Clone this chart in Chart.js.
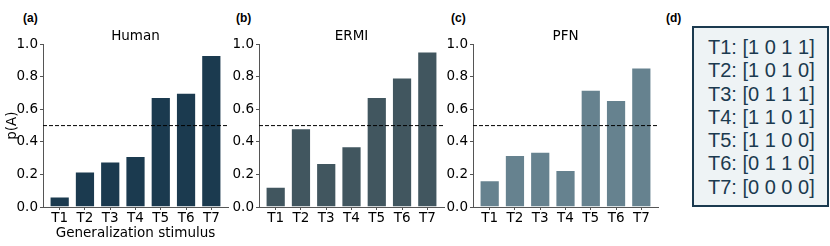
<!DOCTYPE html>
<html>
<head>
<meta charset="utf-8">
<script src="https://cdn.jsdelivr.net/npm/chart.js@4"></script>
<style>
  body { margin:0; background:#fff; width:830px; height:246px; position:relative; overflow:hidden; }
  canvas { position:absolute; top:0; }
  .lbl { position:absolute; top:11px; font:bold 12px "Liberation Sans"; color:#000; }
  #stim { position:absolute; left:692px; top:26px; width:137px; height:181px; box-sizing:border-box;
          border:2px solid #1b3a4f; background:#eef3f5; padding:8px 0 0 14px;
          font:20px "Liberation Sans"; line-height:23.3px; color:#1b3a4f; white-space:pre; }
</style>
</head>
<body>
<div class="lbl" style="left:23px">(a)</div>
<div class="lbl" style="left:236px">(b)</div>
<div class="lbl" style="left:451px">(c)</div>
<div class="lbl" style="left:666px">(d)</div>
<canvas id="human" width="236" height="246" style="left:0px"></canvas>
<canvas id="ermi" width="236" height="246" style="left:216px"></canvas>
<canvas id="pfn" width="236" height="246" style="left:430px"></canvas>
<div id="stim"></div>
<script>
const categories = ['T1', 'T2', 'T3', 'T4', 'T5', 'T6', 'T7'];
const humanValues = [0.065, 0.218, 0.280, 0.314, 0.675, 0.702, 0.933];
const ermiValues = [0.124, 0.484, 0.271, 0.373, 0.676, 0.796, 0.955];
const pfnValues = [0.165, 0.320, 0.339, 0.227, 0.720, 0.657, 0.857];
const yTicks = [0, 0.2, 0.4, 0.6, 0.8, 1.0];
const chance = 0.5;
const stimuli = ['[1 0 1 1]', '[1 0 1 0]', '[0 1 1 1]', '[1 1 0 1]', '[1 1 0 0]', '[0 1 1 0]', '[0 0 0 0]'];

const xMin = -0.66, xMax = categories.length - 1 + 0.66;
const font = { family: 'DejaVu Sans', size: 13.5 };
const tickFont = { family: 'DejaVu Sans', size: 13.5 };
const spine = '#555';

document.getElementById('stim').textContent =
  categories.map((c, i) => c + ': ' + stimuli[i]).join('\n');

function makePanel(id, title, values, color, xTitle, yTitle) {
  new Chart(document.getElementById(id).getContext('2d'), {
    data: {
      datasets: [
        { type: 'bar', data: values.map((v, i) => ({ x: i, y: v })), backgroundColor: color,
          borderColor: 'rgba(255,255,255,0.6)', borderWidth: 1, barPercentage: 0.8, categoryPercentage: 1, order: 2 },
        { type: 'line', data: [{ x: xMin, y: chance }, { x: xMax, y: chance }], borderColor: '#000',
          borderWidth: 1, borderDash: [4, 2], pointRadius: 0, pointHoverRadius: 0, order: 1 }
      ]
    },
    options: {
      responsive: false, animation: false,
      layout: { padding: { right: 8 }, autoPadding: false },
      plugins: {
        legend: { display: false }, tooltip: { enabled: false },
        title: { display: true, fullSize: false, text: title, font: { ...font, weight: 'normal' }, color: '#000',
                 padding: { top: 28, bottom: 0 } }
      },
      scales: {
        x: {
          type: 'linear', min: xMin, max: xMax, offset: false,
          afterBuildTicks: s => { s.ticks = categories.map((c, i) => ({ value: i })); },
          afterFit: s => { s.height = 39; s.paddingLeft = 0; s.paddingRight = 0; },
          ticks: { callback: v => categories[v], font: tickFont, color: '#000', padding: 0, maxRotation: 0, autoSkip: false },
          grid: { display: true, offset: false, drawOnChartArea: false, drawTicks: true, tickLength: 3, color: spine },
          border: { display: true, color: spine, width: 1 },
          title: { display: xTitle, text: 'Generalization stimulus', font: font, color: '#000', padding: { top: 0, bottom: 4 } }
        },
        y: {
          min: 0, max: 1,
          afterBuildTicks: s => { s.ticks = yTicks.map(v => ({ value: v })); },
          afterFit: s => { s.width = 43; s.paddingTop = 0; s.paddingBottom = 0; },
          ticks: { callback: v => v.toFixed(1), font: tickFont, color: '#000', padding: 2 },
          grid: { display: true, drawOnChartArea: false, drawTicks: true, tickLength: 3, color: spine },
          border: { display: true, color: spine, width: 1 },
          title: { display: yTitle, text: 'p(A)', font: font, color: '#000', padding: { top: 4, bottom: 0 } }
        }
      }
    }
  });
}

makePanel('human', 'Human', humanValues, '#1b3a4f', true, true);
makePanel('ermi', 'ERMI', ermiValues, '#41565f', false, false);
makePanel('pfn', 'PFN', pfnValues, '#66828f', false, false);
</script>
</body>
</html>
